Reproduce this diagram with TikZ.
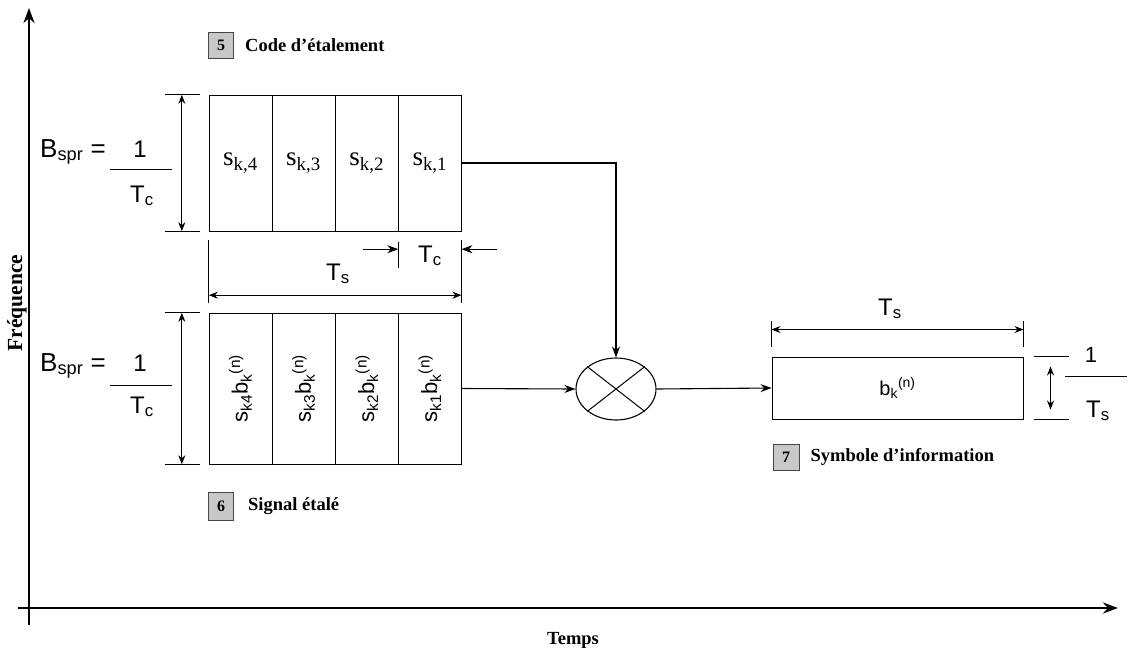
\documentclass[tikz,border=0pt]{standalone}
\usepackage{fontspec}
\setmainfont{Liberation Serif}
\setsansfont{Liberation Sans}
\usetikzlibrary{arrows.meta,positioning,shapes.geometric,calc}
\definecolor{tagfill}{RGB}{200,200,200}
\definecolor{tagline}{RGB}{70,70,70}

\begin{document}
\begin{tikzpicture}[
x=1pt, y=-1pt,
cell/.style={draw, minimum width=62.75pt, minimum height=136pt, inner sep=0pt, font=\fontsize{27}{27}\selectfont},
chip/.style={draw, minimum width=62.75pt, minimum height=151pt, inner sep=0pt, font=\sffamily\fontsize{22}{22}\selectfont},
tagbox/.style={draw=tagline, fill=tagfill, line width=1pt, minimum width=25pt, minimum height=26pt, inner sep=0pt, font=\bfseries\fontsize{16}{16}\selectfont},
caption/.style={font=\bfseries\fontsize{18.5}{18.5}\selectfont, inner sep=0pt},
lbl/.style={font=\sffamily\fontsize{24}{24}\selectfont, inner sep=0pt},
big/.style={font=\sffamily\fontsize{26}{26}\selectfont, inner sep=0pt},
dim/.style={{Stealth[length=9pt,width=7pt]}-{Stealth[length=9pt,width=7pt]}, line width=0.9pt},
tick/.style={line width=0.9pt},
flow/.style={-{Stealth[length=11pt,width=8pt]}, line width=1.1pt},
axis/.style={-{Stealth[length=15pt,width=11pt]}, line width=2.5pt}
]
\useasboundingbox (0,0) rectangle (1129,651);

% axes
\coordinate (ybot) at (29,625);
\coordinate (ytop) at (29,8);
\coordinate (xleft) at (18,608);
\coordinate (xright) at (1118,608);
\draw[axis] (ybot) -- (ytop);
\draw[axis] (xleft) -- (xright);
\node[caption, rotate=90, font=\bfseries\fontsize{21.5}{21.5}\selectfont] (freq) at (17,303) {Fréquence};
\node[caption] (temps) at (573,640) {Temps};

% code d'etalement
\node[cell] (c4) at (240.4,163) {s\textsubscript{k,4}};
\node[cell, right=0pt of c4] (c3) {s\textsubscript{k,3}};
\node[cell, right=0pt of c3] (c2) {s\textsubscript{k,2}};
\node[cell, right=0pt of c2] (c1) {s\textsubscript{k,1}};
\node[tagbox] (tag5) at (221,45) {5};
\node[caption, anchor=west, right=11pt of tag5] (cap5) {Code d'étalement};

\draw[tick] ([xshift=-44pt]c4.north west) -- ([xshift=-9pt]c4.north west);
\draw[tick] ([xshift=-44pt]c4.south west) -- ([xshift=-9pt]c4.south west);
\draw[dim] ([xshift=-27pt]c4.north west) -- ([xshift=-27pt]c4.south west);
\node[big, anchor=base west] (bspr1) at (40,157) {B\textsubscript{spr} =};
\node[lbl, anchor=base] (one1) at (140,157) {1};
\draw[tick] (110,169) -- (172,169);
\node[lbl, anchor=base] (tc1) at (142,202) {T\textsubscript{c}};

% T_s and T_c
\draw[tick] ([yshift=-9pt]c4.south west) -- ([yshift=-72pt]c4.south west);
\draw[tick] ([yshift=-9pt]c1.south east) -- ([yshift=-72pt]c1.south east);
\draw[tick] ([yshift=-11pt]c1.south west) -- ([yshift=-37pt]c1.south west);
\draw[dim] ([yshift=-64pt]c4.south west) -- ([yshift=-64pt]c1.south east);
\node[lbl, anchor=base] (ts1) at (338,280) {T\textsubscript{s}};
\draw[flow, line width=0.9pt] ([xshift=-35pt,yshift=-18pt]c1.south west) -- ([yshift=-18pt]c1.south west);
\draw[flow, line width=0.9pt] ([xshift=36pt,yshift=-18pt]c1.south east) -- ([yshift=-18pt]c1.south east);
\node[lbl, anchor=base] (tc2) at (430,262) {T\textsubscript{c}};

% signal etale
\node[chip] (d4) at (240.4,388.5) {\rotatebox{90}{s\textsubscript{k4}b\textsubscript{k}\textsuperscript{(n)}}};
\node[chip, right=0pt of d4] (d3) {\rotatebox{90}{s\textsubscript{k3}b\textsubscript{k}\textsuperscript{(n)}}};
\node[chip, right=0pt of d3] (d2) {\rotatebox{90}{s\textsubscript{k2}b\textsubscript{k}\textsuperscript{(n)}}};
\node[chip, right=0pt of d2] (d1) {\rotatebox{90}{s\textsubscript{k1}b\textsubscript{k}\textsuperscript{(n)}}};
\node[tagbox, minimum height=28pt] (tag6) at (221,506) {6};
\node[caption, anchor=west, right=14pt of tag6] (cap6) {Signal étalé};

\draw[tick] ([xshift=-44pt]d4.north west) -- ([xshift=-9pt]d4.north west);
\draw[tick] ([xshift=-44pt]d4.south west) -- ([xshift=-9pt]d4.south west);
\draw[dim] ([xshift=-27pt]d4.north west) -- ([xshift=-27pt]d4.south west);
\node[big, anchor=base west] (bspr2) at (40,371) {B\textsubscript{spr} =};
\node[lbl, anchor=base] (one2) at (140,371) {1};
\draw[tick] (110,385) -- (172,385);
\node[lbl, anchor=base] (tc3) at (142,413) {T\textsubscript{c}};

% multiplieur
\node[draw, ellipse, line width=1.1pt, minimum width=80pt, minimum height=62pt, inner sep=0pt] (mul) at (616,389) {};
\draw[line width=1pt] (mul.north west) -- (mul.south east);
\draw[line width=1pt] (mul.north east) -- (mul.south west);
\draw[flow] (c1.east) -| (mul.north);
\draw[flow] (d1.east) -- (mul.west);

% symbole d'information
\node[draw, line width=1pt, minimum width=251pt, minimum height=62pt, inner sep=0pt, font=\sffamily\fontsize{20}{20}\selectfont] (rb) at (897.5,388) {b\textsubscript{k}\textsuperscript{(n)}};
\draw[flow] (mul.east) -- (rb.west);
\node[tagbox, minimum width=26pt] (tag7) at (786,457) {7};
\node[caption, anchor=west, right=11pt of tag7] (cap7) {Symbole d'information};

\draw[tick] ([yshift=10pt]rb.north west) -- ([yshift=36pt]rb.north west);
\draw[tick] ([yshift=10pt]rb.north east) -- ([yshift=36pt]rb.north east);
\draw[dim] ([yshift=27pt]rb.north west) -- ([yshift=27pt]rb.north east);
\node[lbl, anchor=base] (ts2) at (890,315) {T\textsubscript{s}};

\draw[tick] ([xshift=10pt]rb.north east) -- ([xshift=45pt]rb.north east);
\draw[tick] ([xshift=10pt]rb.south east) -- ([xshift=45pt]rb.south east);
\draw[dim] ([xshift=27pt,yshift=-10pt]rb.north east) -- ([xshift=27pt,yshift=10pt]rb.south east);
\node[lbl, font=\sffamily\fontsize{22}{22}\selectfont, anchor=base] (one3) at (1091,362) {1};
\draw[tick] (1065,376) -- (1127,376);
\node[lbl, anchor=base] (ts3) at (1098,417) {T\textsubscript{s}};
\end{tikzpicture}
\end{document}
